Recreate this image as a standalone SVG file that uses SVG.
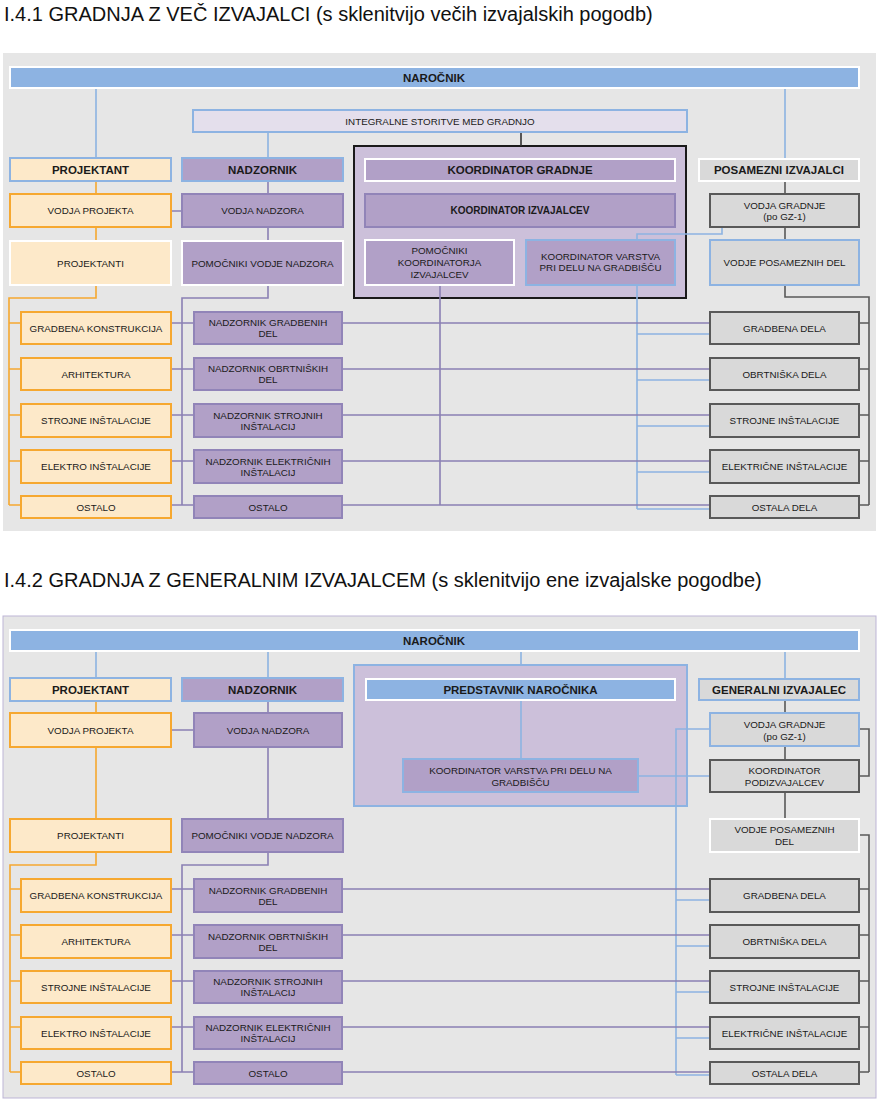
<svg xmlns="http://www.w3.org/2000/svg" width="880" height="1106" viewBox="0 0 880 1106">
<style>
text{font-family:"Liberation Sans",Arial,sans-serif;font-size:9.8px;fill:#1a1a1a;text-anchor:middle}
.b{font-weight:bold;font-size:11.5px}
.b10{font-weight:bold;font-size:10px}
.title{font-size:20px;text-anchor:start;fill:#111}
.panel{fill:#e6e6e6}
.or{fill:#fde9c9;stroke:#f6a830;stroke-width:2}
.ow{fill:#fde9c9;stroke:#fff;stroke-width:2}
.ob{fill:#fde9c9;stroke:#8db3e2;stroke-width:2}
.pu{fill:#b1a0c7;stroke:#9184b8;stroke-width:2}
.pw{fill:#b1a0c7;stroke:#fff;stroke-width:2}
.pb{fill:#b1a0c7;stroke:#8db3e2;stroke-width:2}
.gy{fill:#d9d9d9;stroke:#595959;stroke-width:2}
.gw{fill:#d9d9d9;stroke:#fff;stroke-width:2}
.gb{fill:#d9d9d9;stroke:#8db3e2;stroke-width:2}
.bl{fill:#8db3e2;stroke:#fff;stroke-width:2}
.lav{fill:#e4dfec;stroke:#8db3e2;stroke-width:2}
.lb{fill:none;stroke:#8db3e2;stroke-width:1.6}
.lo{fill:none;stroke:#f6a830;stroke-width:1.6}
.lp{fill:none;stroke:#8b80b4;stroke-width:1.6}
.lg{fill:none;stroke:#595959;stroke-width:1.6}
.lk{fill:none;stroke:#333;stroke-width:1.6}
</style>
<rect width="880" height="1106" fill="#fff"/>
<text class="title" x="4" y="21">I.4.1 GRADNJA Z VEČ IZVAJALCI (s sklenitvijo večih izvajalskih pogodb)</text>
<text class="title" x="4" y="587">I.4.2 GRADNJA Z GENERALNIM IZVAJALCEM (s sklenitvijo ene izvajalske pogodbe)</text>
<rect class="panel" x="3" y="53" width="873" height="478"/>
<rect class="panel" x="3" y="616" width="873" height="482" stroke="#bdb5d6" stroke-width="1"/>

<!-- ===== TOP: containers ===== -->
<g id="top-koordinator-gradnje-group"><rect x="354" y="146" width="332" height="152" fill="#ccc0da" stroke="#1a1a1a" stroke-width="2"/></g>

<!-- ===== TOP connectors ===== -->
<g id="connectors-top">
<path class="lb" d="M96 88V158M785 88V159M268 132V158"/>
<path class="lk" d="M521 132V146"/>
<path class="lb" d="M722 227V234H637V509M637 334H710M637 380H710M637 426H710M637 472H710M637 509H710"/>
<path class="lo" d="M96 181V194M96 227V241M96 285V298H9V505M9 323H21M9 369H21M9 415H21M9 461H21M9 505H21"/>
<path class="lp" d="M268 181V194M268 227V241M268 285V298H182V505M171 211H182M171 323H194M171 369H194M171 415H194M171 461H194M171 505H194"/>
<path class="lp" d="M342 323H710M342 369H710M342 415H710M342 461H710M342 505H710M440 285V505"/>
<path class="lg" d="M785 181V194M785 227V240M785 285V297H869V505M859 323H869M859 369H869M859 415H869M859 461H869M859 505H869"/>
</g>

<!-- ===== TOP nodes ===== -->
<g id="t-narocnik"><rect class="bl" x="10" y="67" width="849" height="21"/><text class="b" x="434" y="81.5">NAROČNIK</text></g>
<g id="t-integralne"><rect class="lav" x="193" y="110" width="494" height="22"/><text x="440" y="124.5">INTEGRALNE STORITVE MED GRADNJO</text></g>
<g id="t-projektant"><rect class="ob" x="10" y="158" width="161" height="23"/><text class="b" x="90.5" y="173.5">PROJEKTANT</text></g>
<g id="t-nadzornik"><rect class="pb" x="182" y="158" width="161" height="23"/><text class="b" x="262.5" y="173.5">NADZORNIK</text></g>
<g id="t-koord-gradnje"><rect class="pw" x="365" y="159" width="310" height="22"/><text class="b" x="520" y="174">KOORDINATOR GRADNJE</text></g>
<g id="t-posamezni"><rect class="gw" x="699" y="159" width="160" height="22"/><text class="b" x="779" y="174">POSAMEZNI IZVAJALCI</text></g>
<g id="t-vodja-projekta"><rect class="or" x="10" y="194" width="161" height="33"/><text x="90.5" y="214">VODJA PROJEKTA</text></g>
<g id="t-vodja-nadzora"><rect class="pu" x="182" y="194" width="161" height="33"/><text x="262.5" y="214">VODJA NADZORA</text></g>
<g id="t-koord-izvajalcev"><rect class="pu" x="365" y="194" width="310" height="33"/><text class="b10" x="520" y="214">KOORDINATOR IZVAJALCEV</text></g>
<g id="t-vodja-gradnje"><rect class="gy" x="710" y="194" width="149" height="33"/><text x="784.5" y="208.5">VODJA GRADNJE</text><text x="784.5" y="219.5">(po GZ-1)</text></g>
<g id="t-projektanti"><rect class="ow" x="10" y="241" width="161" height="44"/><text x="90.5" y="266.5">PROJEKTANTI</text></g>
<g id="t-pomocniki-nadzora"><rect class="pw" x="182" y="241" width="161" height="44"/><text x="262.5" y="266.5">POMOČNIKI VODJE NADZORA</text></g>
<g id="t-pomocniki-koord"><rect class="pw" x="365" y="240" width="149" height="45"/><text x="439.5" y="253.5">POMOČNIKI</text><text x="439.5" y="265.5">KOORDINATORJA</text><text x="439.5" y="277.5">IZVAJALCEV</text></g>
<g id="t-koord-varstva"><rect class="pb" x="526" y="240" width="149" height="45"/><text x="600.5" y="260">KOORDINATOR VARSTVA</text><text x="600.5" y="271">PRI DELU NA GRADBIŠČU</text></g>
<g id="t-vodje-posameznih"><rect class="gb" x="710" y="240" width="149" height="45"/><text x="784.5" y="266">VODJE POSAMEZNIH DEL</text></g>

<g id="t-l1"><rect class="or" x="21" y="312" width="150" height="32"/><text x="96" y="331.5">GRADBENA KONSTRUKCIJA</text></g>
<g id="t-l2"><rect class="or" x="21" y="358" width="150" height="32"/><text x="96" y="377.5">ARHITEKTURA</text></g>
<g id="t-l3"><rect class="or" x="21" y="404" width="150" height="33"/><text x="96" y="424">STROJNE INŠTALACIJE</text></g>
<g id="t-l4"><rect class="or" x="21" y="450" width="150" height="33"/><text x="96" y="470">ELEKTRO INŠTALACIJE</text></g>
<g id="t-l5"><rect class="or" x="21" y="496" width="150" height="22"/><text x="96" y="510.5">OSTALO</text></g>

<g id="t-n1"><rect class="pu" x="194" y="312" width="148" height="32"/><text x="268" y="326">NADZORNIK GRADBENIH</text><text x="268" y="337">DEL</text></g>
<g id="t-n2"><rect class="pu" x="194" y="358" width="148" height="32"/><text x="268" y="372">NADZORNIK OBRTNIŠKIH</text><text x="268" y="383">DEL</text></g>
<g id="t-n3"><rect class="pu" x="194" y="404" width="148" height="33"/><text x="268" y="418.5">NADZORNIK STROJNIH</text><text x="268" y="429.5">INŠTALACIJ</text></g>
<g id="t-n4"><rect class="pu" x="194" y="450" width="148" height="33"/><text x="268" y="464.5">NADZORNIK ELEKTRIČNIH</text><text x="268" y="475.5">INŠTALACIJ</text></g>
<g id="t-n5"><rect class="pu" x="194" y="496" width="148" height="22"/><text x="268" y="510.5">OSTALO</text></g>

<g id="t-g1"><rect class="gy" x="710" y="312" width="149" height="32"/><text x="784.5" y="331.5">GRADBENA DELA</text></g>
<g id="t-g2"><rect class="gy" x="710" y="358" width="149" height="32"/><text x="784.5" y="377.5">OBRTNIŠKA DELA</text></g>
<g id="t-g3"><rect class="gy" x="710" y="404" width="149" height="33"/><text x="784.5" y="424">STROJNE INŠTALACIJE</text></g>
<g id="t-g4"><rect class="gy" x="710" y="450" width="149" height="33"/><text x="784.5" y="470">ELEKTRIČNE INŠTALACIJE</text></g>
<g id="t-g5"><rect class="gy" x="710" y="496" width="149" height="22"/><text x="784.5" y="510.5">OSTALA DELA</text></g>

<!-- ===== BOTTOM container ===== -->
<g id="b-predstavnik-group"><rect x="354" y="665" width="333" height="141" fill="#ccc0da" stroke="#8db3e2" stroke-width="2"/></g>

<!-- ===== BOTTOM connectors ===== -->
<g id="connectors-bottom">
<path class="lb" d="M96 651V678M268 651V678M521 651V665M785 651V679M521 700V759M638 776H710"/>
<path class="lb" d="M710 729H676V1075M676 900H710M676 946H710M676 992H710M676 1038H710M676 1075H710"/>
<path class="lo" d="M96 701V713M96 747V819M96 852V865H10V1072M10 889H21M10 935H21M10 981H21M10 1027H21M10 1072H21"/>
<path class="lp" d="M268 701V713M268 747V819M268 852V865H182V1072M171 730H194M171 889H194M171 935H194M171 981H194M171 1027H194M171 1072H194"/>
<path class="lp" d="M342 889H710M342 935H710M342 981H710M342 1027H710M342 1072H710"/>
<path class="lg" d="M785 700V713M785 746V760M785 792V819M859 729H869V776H859M859 835H869V1072M859 889H869M859 935H869M859 981H869M859 1027H869M859 1072H869"/>
</g>

<!-- ===== BOTTOM nodes ===== -->
<g id="b-narocnik"><rect class="bl" x="10" y="630" width="849" height="21"/><text class="b" x="434" y="644.5">NAROČNIK</text></g>
<g id="b-projektant"><rect class="ob" x="10" y="678" width="161" height="23"/><text class="b" x="90.5" y="693.5">PROJEKTANT</text></g>
<g id="b-nadzornik"><rect class="pb" x="182" y="678" width="161" height="23"/><text class="b" x="262.5" y="693.5">NADZORNIK</text></g>
<g id="b-predstavnik"><rect class="bl" x="366" y="679" width="309" height="21"/><text class="b" x="520.5" y="693.5">PREDSTAVNIK NAROČNIKA</text></g>
<g id="b-generalni"><rect class="gb" x="699" y="679" width="160" height="21"/><text class="b" x="779" y="693.5">GENERALNI IZVAJALEC</text></g>
<g id="b-vodja-projekta"><rect class="or" x="10" y="713" width="161" height="34"/><text x="90.5" y="733.5">VODJA PROJEKTA</text></g>
<g id="b-vodja-nadzora"><rect class="pu" x="194" y="713" width="148" height="34"/><text x="268" y="733.5">VODJA NADZORA</text></g>
<g id="b-vodja-gradnje"><rect class="gb" x="710" y="713" width="149" height="33"/><text x="784.5" y="727.5">VODJA GRADNJE</text><text x="784.5" y="739.5">(po GZ-1)</text></g>
<g id="b-koord-varstva"><rect class="pb" x="403" y="759" width="235" height="33"/><text x="520.5" y="774">KOORDINATOR VARSTVA PRI DELU NA</text><text x="520.5" y="786">GRADBIŠČU</text></g>
<g id="b-koord-podizv"><rect class="gy" x="710" y="760" width="149" height="32"/><text x="784.5" y="774">KOORDINATOR</text><text x="784.5" y="785.5">PODIZVAJALCEV</text></g>
<g id="b-projektanti"><rect class="or" x="10" y="819" width="161" height="33"/><text x="90.5" y="839">PROJEKTANTI</text></g>
<g id="b-pomocniki-nadzora"><rect class="pu" x="182" y="819" width="161" height="33"/><text x="262.5" y="839">POMOČNIKI VODJE NADZORA</text></g>
<g id="b-vodje-posameznih"><rect class="gw" x="710" y="819" width="149" height="33"/><text x="784.5" y="833">VODJE POSAMEZNIH</text><text x="784.5" y="845">DEL</text></g>

<g id="b-l1"><rect class="or" x="21" y="879" width="150" height="33"/><text x="96" y="899">GRADBENA KONSTRUKCIJA</text></g>
<g id="b-l2"><rect class="or" x="21" y="925" width="150" height="33"/><text x="96" y="945">ARHITEKTURA</text></g>
<g id="b-l3"><rect class="or" x="21" y="971" width="150" height="32"/><text x="96" y="990.5">STROJNE INŠTALACIJE</text></g>
<g id="b-l4"><rect class="or" x="21" y="1017" width="150" height="32"/><text x="96" y="1036.5">ELEKTRO INŠTALACIJE</text></g>
<g id="b-l5"><rect class="or" x="21" y="1062" width="150" height="22"/><text x="96" y="1076.5">OSTALO</text></g>

<g id="b-n1"><rect class="pu" x="194" y="879" width="148" height="33"/><text x="268" y="893.5">NADZORNIK GRADBENIH</text><text x="268" y="904.5">DEL</text></g>
<g id="b-n2"><rect class="pu" x="194" y="925" width="148" height="33"/><text x="268" y="939.5">NADZORNIK OBRTNIŠKIH</text><text x="268" y="950.5">DEL</text></g>
<g id="b-n3"><rect class="pu" x="194" y="971" width="148" height="32"/><text x="268" y="985">NADZORNIK STROJNIH</text><text x="268" y="996">INŠTALACIJ</text></g>
<g id="b-n4"><rect class="pu" x="194" y="1017" width="148" height="32"/><text x="268" y="1031">NADZORNIK ELEKTRIČNIH</text><text x="268" y="1042">INŠTALACIJ</text></g>
<g id="b-n5"><rect class="pu" x="194" y="1062" width="148" height="22"/><text x="268" y="1076.5">OSTALO</text></g>

<g id="b-g1"><rect class="gy" x="710" y="879" width="149" height="33"/><text x="784.5" y="899">GRADBENA DELA</text></g>
<g id="b-g2"><rect class="gy" x="710" y="925" width="149" height="33"/><text x="784.5" y="945">OBRTNIŠKA DELA</text></g>
<g id="b-g3"><rect class="gy" x="710" y="971" width="149" height="32"/><text x="784.5" y="990.5">STROJNE INŠTALACIJE</text></g>
<g id="b-g4"><rect class="gy" x="710" y="1017" width="149" height="32"/><text x="784.5" y="1036.5">ELEKTRIČNE INŠTALACIJE</text></g>
<g id="b-g5"><rect class="gy" x="710" y="1062" width="149" height="22"/><text x="784.5" y="1076.5">OSTALA DELA</text></g>
</svg>
